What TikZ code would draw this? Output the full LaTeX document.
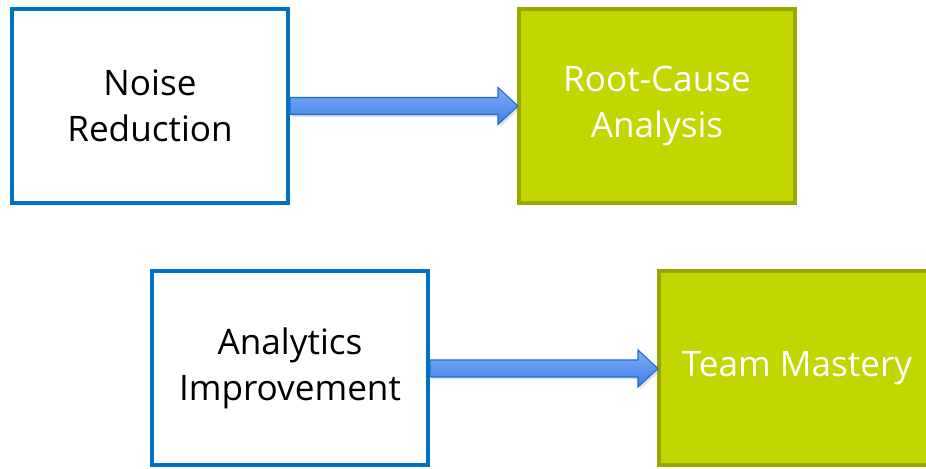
\documentclass[tikz,border=0pt]{standalone}
\usepackage{fontspec}
\setmainfont{Open Sans}
\usetikzlibrary{calc}
\usetikzlibrary{shadows}

\definecolor{stageblue}{HTML}{0071C5}
\definecolor{stagegreen}{HTML}{C4D600}
\definecolor{stageolive}{HTML}{9AA700}
\definecolor{arrowedge}{HTML}{1E6FCC}
\definecolor{arrowtop}{HTML}{80AEF9}
\definecolor{arrowbottom}{HTML}{3D7DE4}

\begin{document}
\begin{tikzpicture}[
    stage/.style={rectangle, minimum width=5.52cm, minimum height=3.88cm,
      line width=0.08cm, align=center, font=\fontsize{20}{26}\selectfont},
    plainstage/.style={stage, draw=stageblue, fill=white, text=black},
    goalstage/.style={stage, draw=stageolive, fill=stagegreen, text=white},
    bigarrow/.style={draw=arrowedge, line width=0.6pt, top color=arrowtop,
      bottom color=arrowbottom, line join=miter,
      drop shadow={opacity=0.25, shadow xshift=0.04cm, shadow yshift=-0.05cm}}
  ]
  \useasboundingbox (0,0) rectangle (18.52,9.38);
  \clip (0,0) rectangle (18.52,9.38);

  \node[plainstage] (noise) at (3.0,7.26) {Noise\\Reduction};
  \node[goalstage] (rootcause) at (13.14,7.26) {Root-Cause\\Analysis};
  \node[plainstage] (analytics) at (5.8,2.01) {Analytics\\Improvement};
  \node[goalstage] (mastery) at (15.94,2.01) {Team Mastery};

  % block arrows between the stages
  \foreach \from/\to in {noise/rootcause, analytics/mastery}
    \path[bigarrow] ($(\from.east)+(0,0.17)$)
      -- ($(\to.west)+(-0.38,0.17)$) -- ($(\to.west)+(-0.38,0.37)$)
      -- ($(\to.west)+(0.02,0)$)
      -- ($(\to.west)+(-0.38,-0.37)$) -- ($(\to.west)+(-0.38,-0.17)$)
      -- ($(\from.east)+(0,-0.17)$) -- cycle;
\end{tikzpicture}
\end{document}
